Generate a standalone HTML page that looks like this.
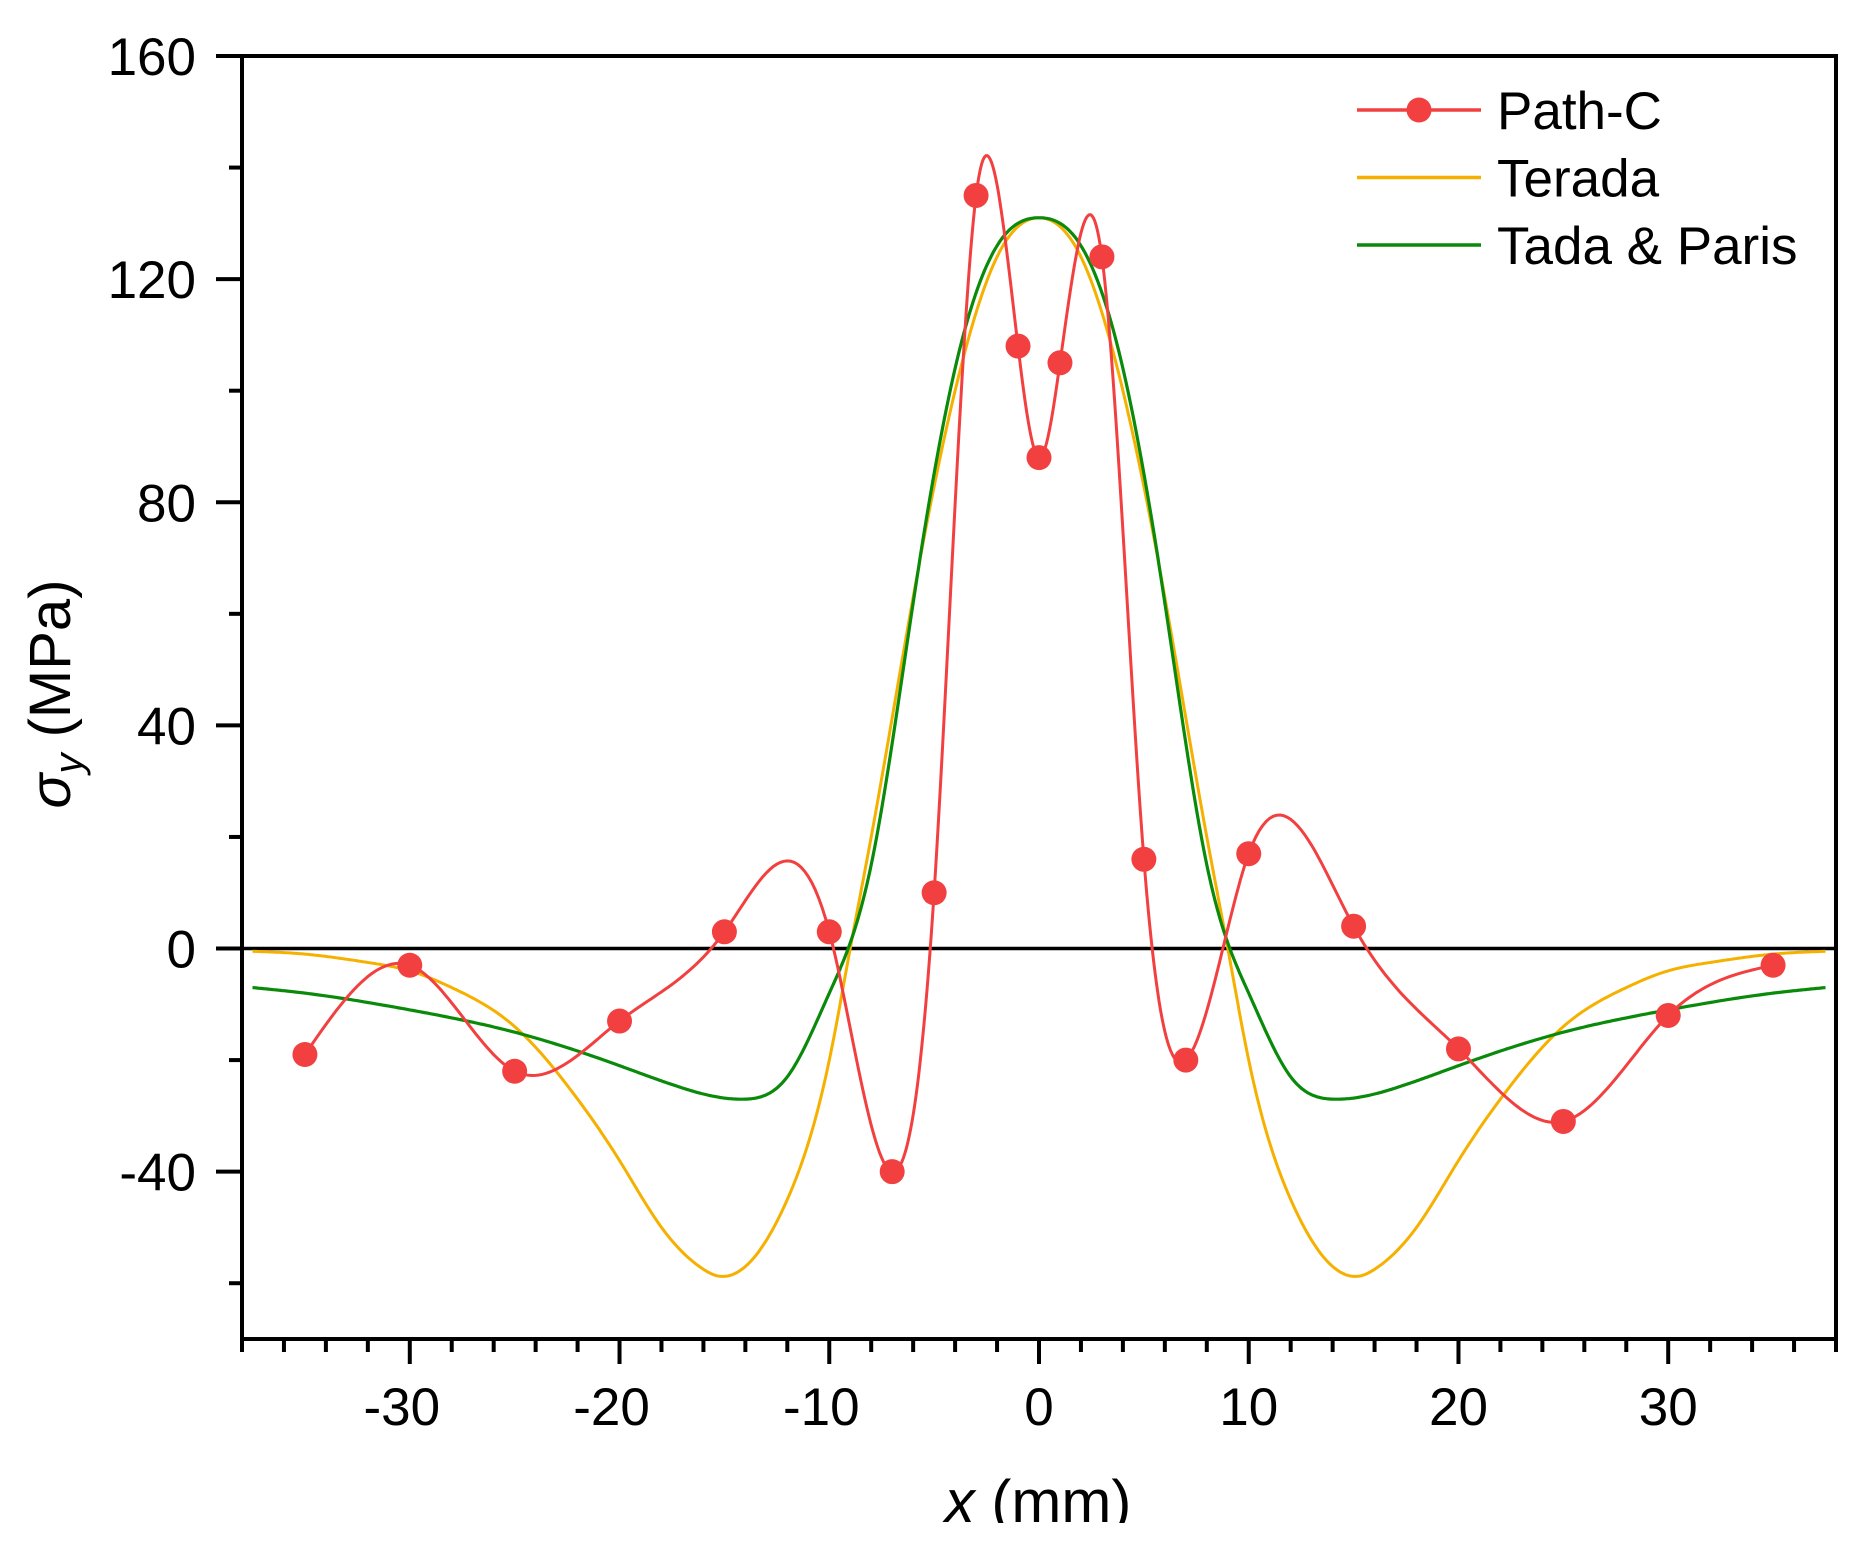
<!DOCTYPE html>
<html><head><meta charset="utf-8"><style>
html,body{margin:0;padding:0;background:#fff;}
svg{display:block;font-family:"Liberation Sans",Arial,sans-serif;}
</style></head><body>
<svg id="chart" width="1867" height="1550" viewBox="0 0 1867 1550" xmlns="http://www.w3.org/2000/svg">
<defs><clipPath id="plotclip"><rect x="242" y="56" width="1594" height="1283"/></clipPath>
<clipPath id="titleclip"><rect x="0" y="0" width="1867" height="1523"/></clipPath></defs>
<g id="grid"></g>
</svg>
<script>
const pathX = [-35,-30,-25,-20,-15,-10,-7,-5,-3,-1,0,1,3,5,7,10,15,20,25,30,35];
const pathY = [-19,-3,-22,-13,3,3,-40,10,135,108,88,105,124,16,-20,17,4,-18,-31,-12,-3];
const teradaX = [-37.5,-35,-32,-30,-28,-25,-22,-20,-18,-16,-15.5,-14,-12,-10,-9,-8,-6,-4,-2,0,2,4,6,8,9,10,12,14,15.5,16,18,20,22,25,28,30,32,35,37.5];
const teradaY = [-0.5,-1,-2.5,-4,-7,-14,-27,-38,-50,-57.5,-58.5,-57,-45,-20,0,20,63,100,124,131,124,100,63,20,0,-20,-45,-57,-58.5,-57.5,-50,-38,-27,-14,-7,-4,-2.5,-1,-0.5];
const tadaX = [-37.5,-35,-30,-25,-20,-17,-14,-12,-10,-9,-8,-6,-4,-2,0,2,4,6,8,9,10,12,14,17,20,25,30,35,37.5];
const tadaY = [-7,-8,-11,-15,-21,-25,-27,-23,-8,1,15,62,104,126,131,126,104,62,15,1,-8,-23,-27,-25,-21,-15,-11,-8,-7];
const xTicks = [-30,-20,-10,0,10,20,30];
const yTicks = [-40,0,40,80,120,160];

const NS='http://www.w3.org/2000/svg';
const svg=document.getElementById('chart');
const X0=242,X1=1836,Y0=56,Y1=1339,XMIN=-38,XMAX=38,YMIN=-70,YMAX=160;
function sx(v){return X0+(v-XMIN)/(XMAX-XMIN)*(X1-X0);}
function sy(v){return Y1-(v-YMIN)/(YMAX-YMIN)*(Y1-Y0);}
function el(t,a,p){const e=document.createElementNS(NS,t);for(const k in a)e.setAttribute(k,a[k]);(p||svg).appendChild(e);return e;}

function spline(xs,ys){
  const n=xs.length,h=[],al=[],l=[1],mu=[0],z=[0],c=new Array(n).fill(0),b=[],d=[];
  for(let i=0;i<n-1;i++)h.push(xs[i+1]-xs[i]);
  for(let i=1;i<n-1;i++)al[i]=3/h[i]*(ys[i+1]-ys[i])-3/h[i-1]*(ys[i]-ys[i-1]);
  for(let i=1;i<n-1;i++){l[i]=2*(xs[i+1]-xs[i-1])-h[i-1]*mu[i-1];mu[i]=h[i]/l[i];z[i]=(al[i]-h[i-1]*z[i-1])/l[i];}
  for(let j=n-2;j>=0;j--){c[j]=(j>0?z[j]:0)-mu[j]*c[j+1];b[j]=(ys[j+1]-ys[j])/h[j]-h[j]*(c[j+1]+2*c[j])/3;d[j]=(c[j+1]-c[j])/(3*h[j]);}
  let pts=[];
  for(let i=0;i<n-1;i++){for(let k=0;k<30;k++){const t=h[i]*k/30;pts.push([xs[i]+t,ys[i]+b[i]*t+c[i]*t*t+d[i]*t*t*t]);}}
  pts.push([xs[n-1],ys[n-1]]);
  return 'M'+pts.map(p=>sx(p[0]).toFixed(1)+','+sy(p[1]).toFixed(1)).join('L');
}

const zl=el('line',{x1:X0,x2:X1,y1:sy(0),y2:sy(0),stroke:'#000','stroke-width':3.5});



const g=el('g',{'clip-path':'url(#plotclip)'});


const lt=el('path',{d:spline(teradaX,teradaY),fill:'none',stroke:'#f5b000','stroke-width':3},g);


const lg=el('path',{d:spline(tadaX,tadaY),fill:'none',stroke:'#0a8a0a','stroke-width':3.2},g);


const lr=el('path',{d:spline(pathX,pathY),fill:'none',stroke:'#f24040','stroke-width':3},g);


for(let i=0;i<pathX.length;i++){
  const c=el('circle',{cx:sx(pathX[i]),cy:sy(pathY[i]),r:12.5,fill:'#f24040'},g);
  
  
}

const fr=el('path',{d:`M${X0},${Y0}H${X1}V${Y1}H${X0}Z`,fill:'none',stroke:'#000','stroke-width':4});


for(let v=-38;v<=38;v+=2){
  const major=v%10===0;
  const t=el('line',{x1:sx(v),x2:sx(v),y1:Y1,y2:Y1+(major?25:13),stroke:'#000','stroke-width':4});
  
  
}
for(let v=-60;v<=160;v+=20){
  const major=v%40===0;
  const t=el('line',{x1:X0,x2:X0-(major?26:13),y1:sy(v),y2:sy(v),stroke:'#000','stroke-width':4});
  
  
}
xTicks.forEach(v=>{
  const t=el('text',{x:sx(v)+(v<0?-8:0),y:1425,'text-anchor':'middle','font-size':53});
  t.textContent=v;
  
  
});
yTicks.forEach(v=>{
  const t=el('text',{x:196,y:sy(v)+19,'text-anchor':'end','font-size':53});
  t.textContent=v;
  
  
});
const xt=el('text',{x:1038,y:1522,'text-anchor':'middle','font-size':60,'clip-path':'url(#titleclip)'});
xt.innerHTML='<tspan font-style="italic">x</tspan> (mm)';


const yt=el('text',{x:0,y:0,'text-anchor':'middle','font-size':58,transform:'translate(70,694) rotate(-90)'});
yt.innerHTML='<tspan font-style="italic">σ</tspan><tspan font-style="italic" font-size="40" dy="12">y</tspan><tspan dy="-12"> (MPa)</tspan>';



const leg=[['Path-C','#f24040',true],['Terada','#f5b000',false],['Tada & Paris','#0a8a0a',false]];
leg.forEach((e,i)=>{
  const y=110+i*67.5;
  const gg=el('g',{});
  
  
  el('line',{x1:1357,x2:1481,y1:y,y2:y,stroke:e[1],'stroke-width':3.5},gg);
  if(e[2])el('circle',{cx:1419,cy:y,r:12.5,fill:e[1]},gg);
  const t=el('text',{x:1497,y:y+19,'font-size':53},gg);
  t.textContent=e[0];
});
</script>
</body></html>
